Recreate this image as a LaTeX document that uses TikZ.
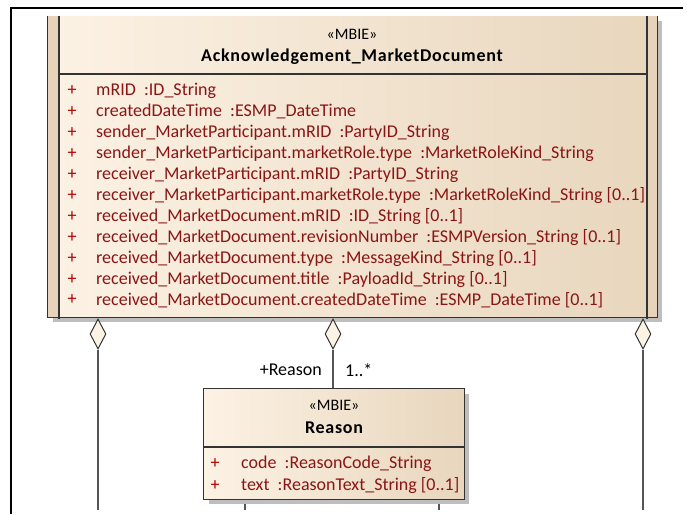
\documentclass[tikz,border=0pt]{standalone}
\usepackage{fontspec}
\setmainfont{Carlito}
\newfontfamily\titlefont[LetterSpace=4]{Carlito}
\usetikzlibrary{shapes.geometric}
\definecolor{boxL}{HTML}{FCF2E4}
\definecolor{boxR}{HTML}{E8D6BD}
\definecolor{strip}{HTML}{E6D3B9}
\definecolor{attr}{HTML}{8A1515}
\definecolor{plus}{HTML}{B00000}
\definecolor{edge}{HTML}{333333}
\definecolor{conn}{HTML}{555555}
\definecolor{shadowc}{HTML}{BEBEBE}
\definecolor{dfill}{HTML}{FDF3E5}
\tikzset{
  classbox/.style={rectangle, inner sep=0pt, left color=boxL, right color=boxR},
  edgeline/.style={draw=edge, line width=1.2pt},
  connline/.style={draw=conn, line width=1.4pt},
  agg/.style={diamond, draw=edge, fill=dfill, line width=1pt, inner sep=0pt,
    minimum width=16pt, minimum height=30pt},
  stereo/.style={inner sep=0pt, font=\fontsize{16}{18}\selectfont},
  ctitle/.style={inner sep=0pt, font=\fontsize{18}{20}\selectfont\titlefont\bfseries},
  attrtxt/.style={inner sep=0pt, anchor=west, text=attr, font=\fontsize{18}{20}\selectfont},
  plustxt/.style={inner sep=0pt, text=plus, font=\fontsize{18}{20}\selectfont},
  roletxt/.style={inner sep=0pt, font=\fontsize{18}{20}\selectfont}
}
\begin{document}
\begin{tikzpicture}[x=1pt,y=-1pt]
\useasboundingbox (0,0) rectangle (687,514);
% frame
\draw[line width=2pt, black] (683,8) -- (11,8) -- (11,514);

% free ends of connectors leaving the picture
\coordinate (e1) at (98,510);
\coordinate (e3) at (643,510);
\coordinate (r1) at (245,510);
\coordinate (r2) at (439,510);

% main class box
\fill[shadowc] (53,21) rectangle (662,322);
\node[classbox, minimum width=609pt, minimum height=301pt] (ack) at (352.5,166.5) {};
\fill[strip] (ack.north west) rectangle (59,317);
\fill[strip] (647,16) rectangle (ack.south east);
\draw[edgeline] (ack.north west) -- (ack.south west) -- (ack.south east) -- (ack.north east);
\draw[edge, line width=1.2pt] (59,16) -- (59,319);
\draw[edge, line width=1.2pt] (647,16) -- (647,319);
\draw[edge, line width=1.2pt] (59,74) -- (647,74);
\node[stereo] (ackst) at (352,34) {«MBIE»};
\node[ctitle] (ackt) at (352,57) {Acknowledgement\_MarketDocument};

\foreach \i/\t in {
 0/{mRID~ :ID\_String},
 1/{createdDateTime~ :ESMP\_DateTime},
 2/{sender\_MarketParticipant.mRID~ :PartyID\_String},
 3/{sender\_MarketParticipant.marketRole.type~ :MarketRoleKind\_String},
 4/{receiver\_MarketParticipant.mRID~ :PartyID\_String},
 5/{receiver\_MarketParticipant.marketRole.type~ :MarketRoleKind\_String [0..1]},
 6/{received\_MarketDocument.mRID~ :ID\_String [0..1]},
 7/{received\_MarketDocument.revisionNumber~ :ESMPVersion\_String [0..1]},
 8/{received\_MarketDocument.type~ :MessageKind\_String [0..1]},
 9/{received\_MarketDocument.title~ :PayloadId\_String [0..1]},
 10/{received\_MarketDocument.createdDateTime~ :ESMP\_DateTime [0..1]}}{
  \node[plustxt] (ap\i) at (72,91+20.9*\i) {+};
  \node[attrtxt] (at\i) at (96,91+20.9*\i) {\t};
}

% aggregation diamonds
\node[agg] (d1) at (98,334) {};
\node[agg] (d2) at (333,334) {};
\node[agg] (d3) at (643,334) {};
\draw[connline] (d1.south) -- (e1);
\draw[connline] (d3.south) -- (e3);

% Reason class
\node[roletxt, anchor=east] (role) at (322,370) {+Reason};
\node[roletxt, anchor=west] (mult) at (345,370) {1..*};
\draw[connline] (245,499) -- (r1);
\draw[connline] (439,499) -- (r2);
\fill[shadowc] (209,394) rectangle (469,504);
\node[classbox, minimum width=260pt, minimum height=110pt] (reason) at (334,444) {};
\draw[connline] (d2.south) -- (d2.south |- reason.north);
\draw[edgeline] (reason.north west) rectangle (reason.south east);
\draw[edgeline] (204,447) -- (464,447);
\node[stereo] (rst) at (334,405) {«MBIE»};
\node[ctitle] (rt) at (334,428) {Reason};
\node[plustxt] (rp0) at (215,464) {+};
\node[attrtxt] (ra0) at (241,464) {code~ :ReasonCode\_String};
\node[plustxt] (rp1) at (215,486) {+};
\node[attrtxt] (ra1) at (241,486) {text~ :ReasonText\_String [0..1]};
\end{tikzpicture}
\end{document}
